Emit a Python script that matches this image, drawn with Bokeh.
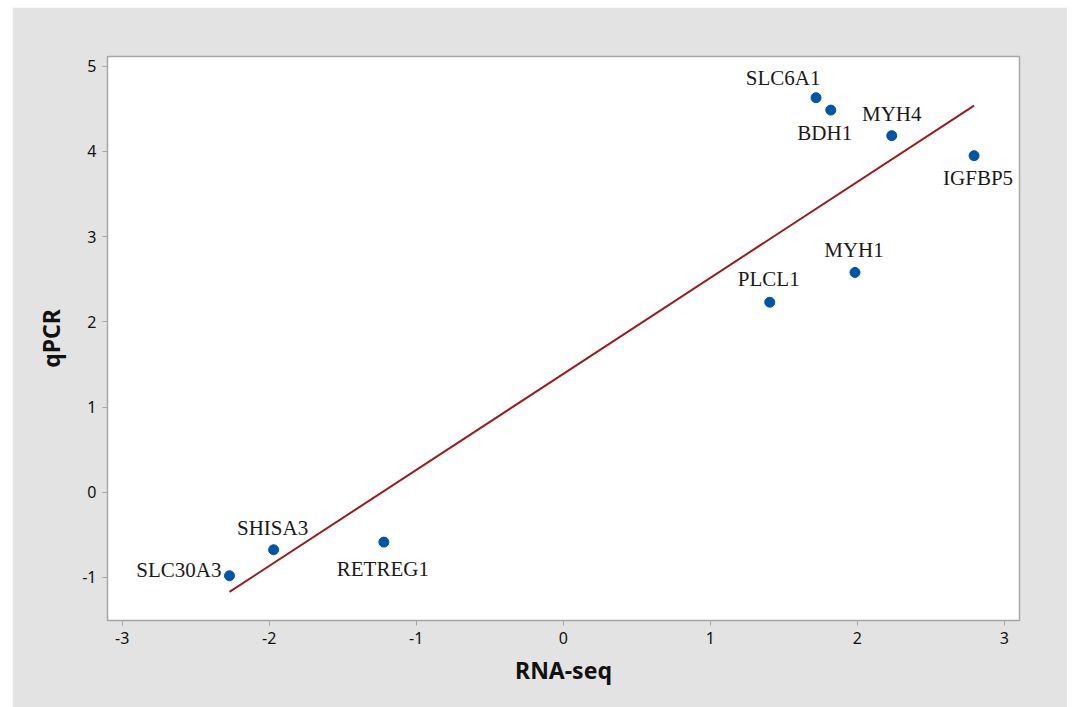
import numpy as np
from bokeh.plotting import figure
from bokeh.models import ColumnDataSource, Range1d, FixedTicker
from bokeh.core.properties import value
from bokeh.embed import file_html
from bokeh.resources import INLINE

# ---- data ----
genes = ["SLC30A3", "SHISA3", "RETREG1", "PLCL1", "MYH1", "SLC6A1", "BDH1", "MYH4", "IGFBP5"]
rna_seq = [-2.27, -1.97, -1.22, 1.405, 1.985, 1.72, 1.82, 2.235, 2.795]
qpcr = [-0.98, -0.675, -0.585, 2.23, 2.58, 4.63, 4.485, 4.185, 3.95]
x_ticks = [-3, -2, -1, 0, 1, 2, 3]
y_ticks = [-1, 0, 1, 2, 3, 4, 5]

# ---- label placement (style only: align, dx, dy in screen px) ----
placement = {
    "SLC30A3": ("right", -8, -6),
    "SHISA3": ("center", -1, -22),
    "RETREG1": ("center", -1, 27),
    "PLCL1": ("center", -1, -23),
    "MYH1": ("center", -1, -22),
    "SLC6A1": ("center", -33, -20),
    "BDH1": ("center", -6, 23),
    "MYH4": ("center", 0, -22),
    "IGFBP5": ("center", 4, 22),
}

GREY = "#e3e3e3"
FRAME = "#a6a6a6"

p = figure(width=1055, height=700, output_backend="svg", toolbar_location=None,
           x_range=Range1d(-3.1, 3.104), y_range=Range1d(-1.505, 5.114),
           min_border_left=95, min_border_right=48, min_border_top=49, min_border_bottom=87)
p.margin = (7, 0, 0, 12)
p.background_fill_color = "white"
p.border_fill_color = GREY
p.outline_line_color = FRAME
p.outline_line_width = 1.5
p.grid.visible = False

for ax in (p.xaxis[0], p.yaxis[0]):
    ax.axis_line_color = FRAME
    ax.major_tick_line_color = FRAME
    ax.major_tick_out = 5
    ax.major_tick_in = 0
    ax.minor_tick_line_color = None
    ax.major_label_text_font = "Noto Sans"
    ax.major_label_text_font_size = "16px"
    ax.major_label_text_color = "#111111"
    ax.major_label_text_font_style = "normal"
    ax.major_label_standoff = 6
    ax.axis_label_text_font = "Noto Sans"
    ax.axis_label_text_font_size = "23px"
    ax.axis_label_text_font_style = "bold"
    ax.axis_label_text_color = "#111111"

p.xaxis.ticker = FixedTicker(ticks=x_ticks)
p.yaxis.ticker = FixedTicker(ticks=y_ticks)
p.xaxis.major_label_overrides = {t: str(t) for t in x_ticks}
p.yaxis.major_label_overrides = {t: str(t) for t in y_ticks}
p.xaxis.axis_label = "RNA-seq"
p.yaxis.axis_label = "qPCR"
p.xaxis.axis_label_standoff = 7
p.yaxis.axis_label_standoff = 12

# regression line over the data range
slope, intercept = np.polyfit(rna_seq, qpcr, 1)
xs = [min(rna_seq), max(rna_seq)]
p.line(xs, [intercept + slope * v for v in xs], line_color="#9b1c1c", line_width=2)

src = ColumnDataSource(dict(x=rna_seq, y=qpcr, name=genes))
p.scatter("x", "y", source=src, size=10, fill_color="#0055a5", line_color="#0055a5")

for g, xv, yv in zip(genes, rna_seq, qpcr):
    align, dx, dy = placement[g]
    p.text(x=[xv], y=[yv], text=[g], x_offset=dx, y_offset=dy,
           text_align=align, text_baseline="middle",
           text_font=value("Liberation Serif"), text_font_size="21px",
           text_color="#1a1a1a")

open("out.html", "w").write(file_html(p, INLINE))
